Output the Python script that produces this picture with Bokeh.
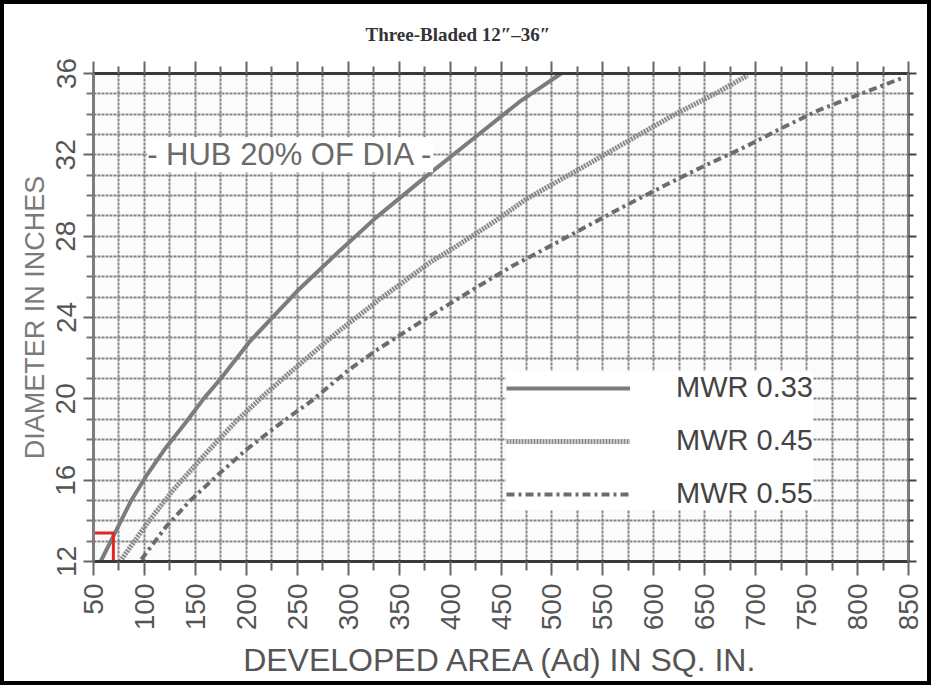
import math
from bokeh.plotting import figure
from bokeh.layouts import column
from bokeh.models import (Range1d, FixedTicker, LinearAxis, Label, Legend,
                          LegendItem, CustomJSTickFormatter, ColumnDataSource)
from bokeh.embed import file_html
from bokeh.resources import INLINE

# ---------------- data ----------------
TITLE = "Three-Bladed 12\u2033\u201336\u2033"
X_LABEL = "DEVELOPED AREA (Ad) IN SQ. IN."
Y_LABEL = "DIAMETER IN INCHES"
HUB_NOTE = "- HUB 20% OF DIA -"
HUB_NOTE_POS = (243, 32)

x_major = [50, 100, 150, 200, 250, 300, 350, 400, 450, 500, 550, 600, 650, 700, 750, 800, 850]
x_minor = [75, 125, 175, 225, 275, 325, 375, 425, 475, 525, 575, 625, 675, 725, 775, 825]
y_major = [12, 16, 20, 24, 28, 32, 36]
y_minor = [13, 14, 15, 17, 18, 19, 21, 22, 23, 25, 26, 27, 29, 30, 31, 33, 34, 35]

# MWR 0.33 (solid)
mwr033_area = [57, 71, 87, 103, 121, 140, 158, 175, 203, 250, 292, 327, 378, 428, 468, 509]
mwr033_dia = [12.0, 13.4, 15.0, 16.3, 17.6, 18.8, 20.0, 21.0, 22.8, 25.3, 27.3, 28.9, 31.0, 33.0, 34.6, 36.0]

# MWR 0.45 (dotted)
mwr045_area = [76, 103, 128, 160, 190, 220, 250, 290, 331, 380, 406, 443, 474, 534, 579, 621, 660, 692]
mwr045_dia = [12.0, 13.9, 15.5, 17.3, 18.9, 20.3, 21.6, 23.3, 24.9, 26.7, 27.5, 28.7, 29.8, 31.5, 32.8, 34.0, 35.0, 35.9]

# MWR 0.55 (dash-dot)
mwr055_area = [97, 121, 145, 173, 200, 231, 264, 300, 328, 381, 420, 460, 494, 535, 572, 611, 643, 690, 725, 762, 803, 845]
mwr055_dia = [12.1, 13.7, 15.0, 16.3, 17.5, 18.7, 19.9, 21.4, 22.4, 24.1, 25.3, 26.5, 27.4, 28.5, 29.5, 30.5, 31.3, 32.4, 33.3, 34.2, 35.0, 35.8]

# red reading marker (diameter 13.4 in -> about 70 sq. in.)
marker_area = [50, 69.5, 69.5]
marker_dia = [13.4, 13.4, 12.0]

# ---------------- figure ----------------
p = figure(frame_width=815, frame_height=488,
           min_border_left=89, min_border_right=19, min_border_top=69, min_border_bottom=116,
           x_range=Range1d(50, 850), y_range=Range1d(12, 36),
           output_backend="svg", toolbar_location=None, title=TITLE)
p.background_fill_color = "#fbfbfb"
p.border_fill_color = "white"
p.outline_line_color = None

p.title.text_font = "Liberation Serif"
p.title.text_font_size = "19px"
p.title.text_font_style = "bold"
p.title.text_color = "#333333"
p.title.align = "left"
p.title.offset = 272
p.title.standoff = 34

# grid
p.xgrid.ticker = FixedTicker(ticks=sorted(x_major + x_minor))
p.ygrid.ticker = FixedTicker(ticks=sorted(y_major + y_minor))
for g in (p.xgrid, p.ygrid):
    g.grid_line_color = "#858585"
    g.grid_line_width = 2
    g.grid_line_dash = "3 1"
    g.grid_line_alpha = 1.0

tick_font = "Liberation Sans"

# bottom axis
xa = p.xaxis[0]
xa.ticker = FixedTicker(ticks=x_major, minor_ticks=x_minor)
xa.axis_label = X_LABEL
xa.axis_label_text_font = tick_font
xa.axis_label_text_font_size = "32px"
xa.axis_label_text_font_style = "normal"
xa.axis_label_text_color = "#555555"
xa.axis_label_standoff = 9
xa.major_label_orientation = math.pi / 2
xa.major_label_text_font = tick_font
xa.major_label_text_font_size = "28px"
xa.major_label_text_color = "#555555"
xa.major_label_standoff = 8
xa.axis_line_color = "#3a3a3a"
xa.axis_line_width = 3
xa.major_tick_out = 14
xa.major_tick_in = 0
xa.minor_tick_out = 9
xa.minor_tick_in = 0
xa.major_tick_line_color = "#666666"
xa.major_tick_line_width = 2
xa.minor_tick_line_color = "#666666"
xa.minor_tick_line_width = 2

# left axis
ya = p.yaxis[0]
ya.ticker = FixedTicker(ticks=y_major, minor_ticks=y_minor)
ya.axis_label = Y_LABEL
ya.axis_label_text_font = tick_font
ya.axis_label_text_font_size = "27px"
ya.axis_label_text_font_style = "normal"
ya.axis_label_text_color = "#7a7a7a"
ya.axis_label_standoff = 4
ya.major_label_orientation = "parallel"
ya.major_label_text_font = tick_font
ya.major_label_text_font_size = "28px"
ya.major_label_text_color = "#555555"
ya.major_label_standoff = 8
ya.axis_line_color = "#7d7d7d"
ya.axis_line_width = 3
ya.major_tick_out = 10
ya.major_tick_in = 0
ya.minor_tick_out = 7
ya.minor_tick_in = 0
ya.major_tick_line_color = "#666666"
ya.major_tick_line_width = 2
ya.minor_tick_line_color = "#777777"
ya.minor_tick_line_width = 2

blank = CustomJSTickFormatter(code="return ''")

# top axis (ticks only)
top = LinearAxis(ticker=FixedTicker(ticks=x_major, minor_ticks=x_minor), formatter=blank,
                 axis_line_color="#3a3a3a", axis_line_width=3,
                 major_tick_out=12, major_tick_in=0, minor_tick_out=7, minor_tick_in=0,
                 major_tick_line_color="#666666", major_tick_line_width=2,
                 minor_tick_line_color="#666666", minor_tick_line_width=2,
                 major_label_text_font_size="1px", major_label_standoff=0)
p.add_layout(top, "above")

# right axis (ticks only)
right = LinearAxis(ticker=FixedTicker(ticks=y_major, minor_ticks=y_minor), formatter=blank,
                   axis_line_color="#7d7d7d", axis_line_width=3,
                   major_tick_out=8, major_tick_in=0, minor_tick_out=5, minor_tick_in=0,
                   major_tick_line_color="#444444", major_tick_line_width=2,
                   minor_tick_line_color="#444444", minor_tick_line_width=2,
                   major_label_text_font_size="1px", major_label_standoff=0)
p.add_layout(right, "right")

# curves
s033 = ColumnDataSource(dict(x=mwr033_area, y=mwr033_dia))
s045 = ColumnDataSource(dict(x=mwr045_area, y=mwr045_dia))
s055 = ColumnDataSource(dict(x=mwr055_area, y=mwr055_dia))

r033 = p.line("x", "y", source=s033, line_color="#7c7c7c", line_width=4)
r045 = p.line("x", "y", source=s045, line_color="#8a8a8a", line_width=5, line_dash="2 1")
r055 = p.line("x", "y", source=s055, line_color="#6c6c6c", line_width=4, line_dash="8 4 3 4")

# red reading marker
p.line(marker_area, marker_dia, line_color="#e3261f", line_width=3)

# hub note
p.add_layout(Label(x=HUB_NOTE_POS[0], y=HUB_NOTE_POS[1], text=HUB_NOTE,
                   text_font=tick_font, text_font_size="31px", text_color="#6a6a6a",
                   text_align="center", text_baseline="middle",
                   background_fill_color="white", background_fill_alpha=1.0))

# legend
legend = Legend(items=[LegendItem(label="MWR 0.33", renderers=[r033]),
                       LegendItem(label="MWR 0.45", renderers=[r045]),
                       LegendItem(label="MWR 0.55", renderers=[r055])],
                location=(413, 51), orientation="vertical",
                glyph_width=124, glyph_height=30, label_height=30,
                label_standoff=46, spacing=20, padding=14, margin=0,
                label_text_font=tick_font, label_text_font_size="29px",
                label_text_color="#444444",
                background_fill_color="white", background_fill_alpha=1.0,
                border_line_color=None)
p.add_layout(legend, "center")

page = column(p, styles={"border": "4px solid black"})

open("out.html", "w").write(file_html(page, INLINE))
